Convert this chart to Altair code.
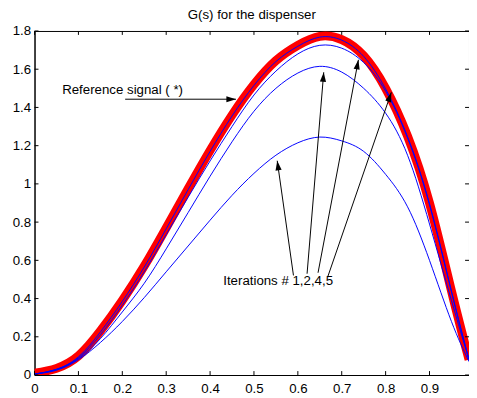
import math
import altair as alt
import pandas as pd

# ---- data ----
x_vals = [0.0, 0.05, 0.1, 0.15, 0.2, 0.25, 0.3, 0.35, 0.4, 0.45, 0.5,
          0.55, 0.6, 0.65, 0.7, 0.75, 0.8, 0.85, 0.9, 0.95, 0.99]
reference = [0.01, 0.035, 0.10, 0.23, 0.39, 0.57, 0.77, 0.975, 1.175, 1.36, 1.52,
             1.645, 1.725, 1.772, 1.755, 1.67, 1.50, 1.25, 0.90, 0.44, 0.08]
iter5 = [0.005, 0.03, 0.095, 0.225, 0.385, 0.565, 0.765, 0.97, 1.17, 1.355, 1.515,
         1.64, 1.72, 1.768, 1.752, 1.667, 1.497, 1.247, 0.897, 0.44, 0.08]
iter4 = [0.005, 0.03, 0.09, 0.21, 0.365, 0.54, 0.735, 0.93, 1.12, 1.30, 1.465,
         1.59, 1.68, 1.725, 1.71, 1.635, 1.485, 1.24, 0.89, 0.435, 0.08]
iter2 = [0.005, 0.028, 0.085, 0.19, 0.33, 0.48, 0.66, 0.85, 1.04, 1.22, 1.38,
         1.50, 1.58, 1.615, 1.585, 1.50, 1.37, 1.15, 0.79, 0.39, 0.08]
iter1 = [0.005, 0.025, 0.08, 0.17, 0.28, 0.405, 0.54, 0.675, 0.81, 0.94, 1.055,
         1.15, 1.215, 1.245, 1.225, 1.17, 1.05, 0.88, 0.60, 0.28, 0.07]

x_ticks = [0.0, 0.1, 0.2, 0.3, 0.4, 0.5, 0.6, 0.7, 0.8, 0.9]
y_ticks = [0.0, 0.2, 0.4, 0.6, 0.8, 1.0, 1.2, 1.4, 1.6, 1.8]

title_text = "G(s) for the dispenser"
ref_label = "Reference signal ( *)"
iter_label = "Iterations # 1,2,4,5"

# annotation anchors (data coordinates)
label_x = [0.063, 0.43]
label_y = [1.49, 0.489]
arrow_x = [0.2065, 0.590, 0.621, 0.646, 0.668]
arrow_y = [1.443, 0.521, 0.530, 0.535, 0.513]
arrow_x2 = [0.459, 0.553, 0.659, 0.738, 0.813]
arrow_y2 = [1.443, 1.121, 1.584, 1.649, 1.479]

W, H = 442, 350
XMAX, YMAX = 0.99, 1.8
FONT = "Liberation Sans"
FS = 13.5

ref_df = pd.DataFrame({"x": x_vals, "y": reference})
rows = []
for name, ys in [("it1", iter1), ("it2", iter2), ("it4", iter4), ("it5", iter5)]:
    for xv, yv in zip(x_vals, ys):
        rows.append({"x": xv, "y": yv, "s": name})
it_df = pd.DataFrame(rows)

angles = []
for sx, sy, ex, ey in zip(arrow_x, arrow_y, arrow_x2, arrow_y2):
    dx = (ex - sx) * W / XMAX
    dy = -(ey - sy) * H / YMAX
    angles.append(math.degrees(math.atan2(dx, -dy)) % 360)
arr_df = pd.DataFrame({"x": arrow_x, "y": arrow_y, "x2": arrow_x2,
                       "y2": arrow_y2, "a": angles})
lab_df = pd.DataFrame({"x": label_x, "y": label_y, "t": [ref_label, iter_label]})
xt_df = pd.DataFrame({"v": x_ticks})
yt_df = pd.DataFrame({"v": y_ticks})

xscale = alt.Scale(domain=[0, XMAX], nice=False, zero=False)
yscale = alt.Scale(domain=[0, YMAX], nice=False, zero=False)

axis_common = dict(title=None, tickSize=0, grid=False, labelFlush=False,
                   labelOverlap=False, labelBound=False, domainColor="black",
                   domainWidth=1, labelColor="black", labelFont=FONT,
                   labelFontSize=FS, format=".1~f")
xaxis = alt.Axis(values=x_ticks, labelPadding=7, **axis_common)
yaxis = alt.Axis(values=y_ticks, labelPadding=4, **axis_common)


def xq(f):
    return alt.X(f, scale=xscale, axis=xaxis)


def yq(f):
    return alt.Y(f, scale=yscale, axis=yaxis)


red = alt.Chart(ref_df).mark_line(color="#ff0000", strokeWidth=9, clip=True,
                                  interpolate="natural").encode(x=xq("x:Q"), y=yq("y:Q"))
blues = alt.Chart(it_df).mark_line(color="#0000ff", strokeWidth=1, clip=True,
                                   interpolate="natural").encode(
    x=xq("x:Q"), y=yq("y:Q"), detail="s:N")

arrows = alt.Chart(arr_df).mark_rule(color="black", strokeWidth=1).encode(
    x=xq("x:Q"), y=yq("y:Q"), x2="x2:Q", y2="y2:Q")
heads = alt.Chart(arr_df).mark_point(
    shape="M0,0 L-0.32,1 L0.32,1 Z", filled=True, color="black", opacity=1,
    size=380, strokeWidth=0).encode(
    x=xq("x2:Q"), y=yq("y2:Q"), angle=alt.Angle("a:Q", scale=None))
labels = alt.Chart(lab_df).mark_text(align="left", baseline="middle",
                                     font=FONT, fontSize=FS, color="black").encode(
    x=xq("x:Q"), y=yq("y:Q"), text="t:N")

tl = 4
tick_left = alt.Chart(yt_df).mark_rule(color="black").encode(
    y=yq("v:Q"), x=alt.value(0), x2=alt.value(tl))
tick_right = alt.Chart(yt_df).mark_rule(color="black").encode(
    y=yq("v:Q"), x=alt.value(W), x2=alt.value(W - tl))
tick_bottom = alt.Chart(xt_df).mark_rule(color="black").encode(
    x=xq("v:Q"), y=alt.value(H), y2=alt.value(H - tl))
tick_top = alt.Chart(xt_df).mark_rule(color="black").encode(
    x=xq("v:Q"), y=alt.value(0), y2=alt.value(tl))

chart = alt.layer(red, blues, arrows, heads, labels,
                  tick_left, tick_right, tick_bottom, tick_top).properties(
    width=W, height=H, background="white",
    title=alt.TitleParams(title_text, font=FONT, fontSize=13.5, fontWeight="normal",
                          color="black", anchor="middle", offset=3),
    autosize=alt.AutoSizeParams(type="none"),
    padding={"left": 27, "top": 20, "right": 0, "bottom": 20},
).configure_view(stroke="black", strokeWidth=1)

chart.save("out.html", embed_options={"renderer": "svg", "actions": False})
